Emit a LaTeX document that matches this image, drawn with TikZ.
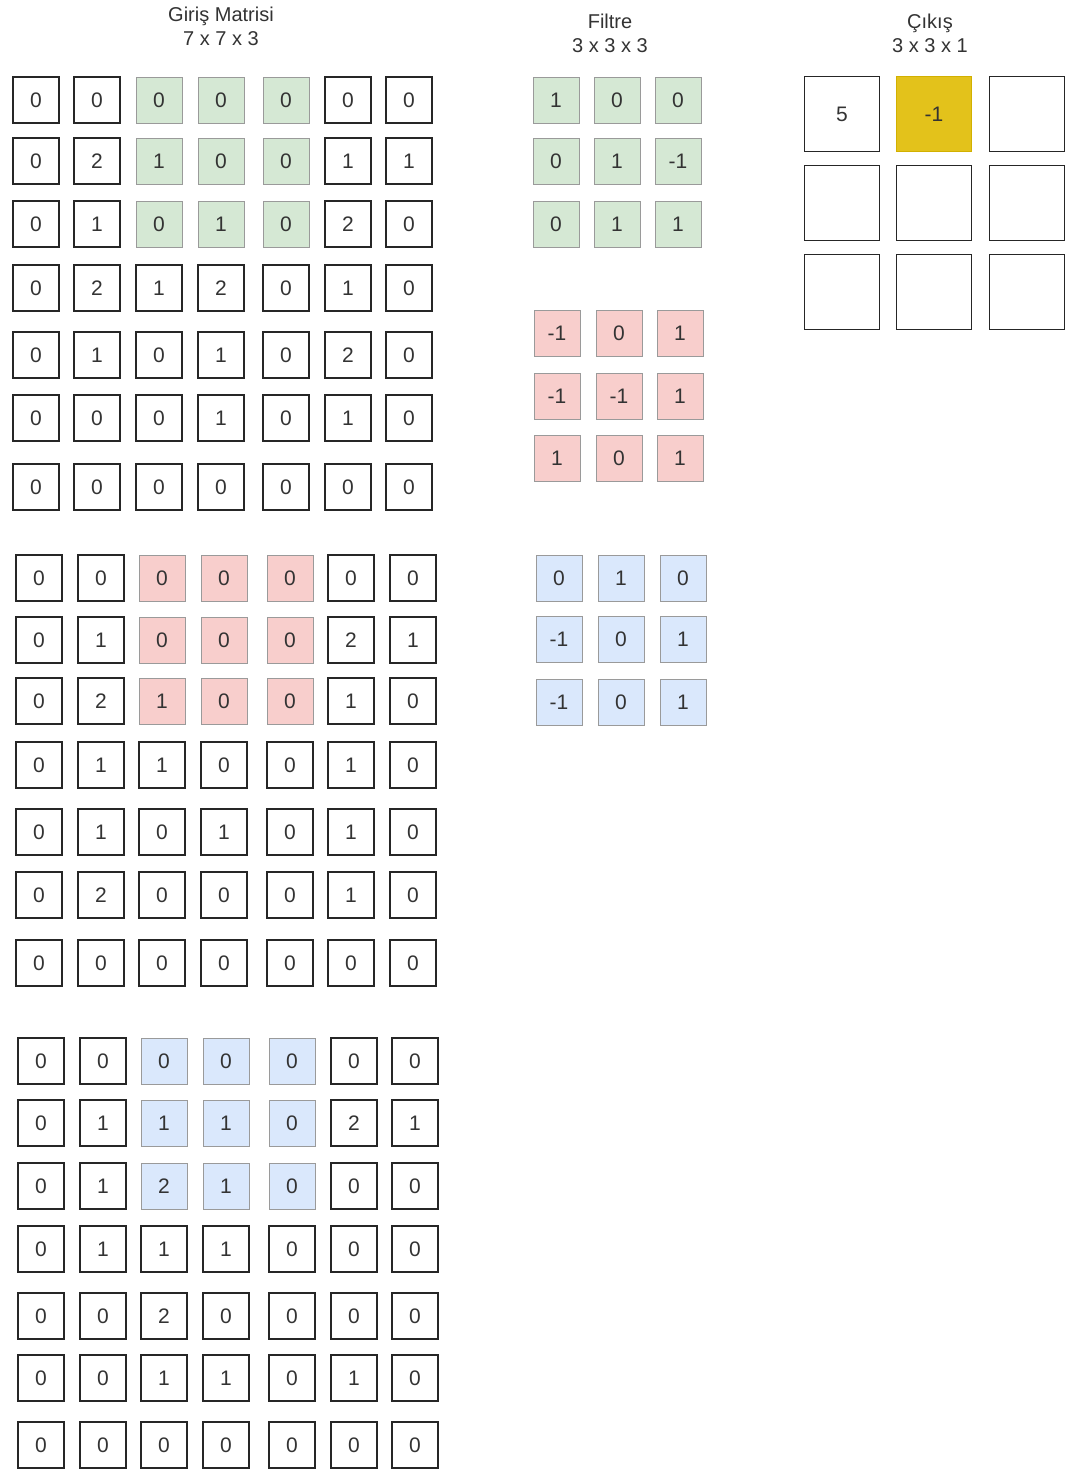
\documentclass[tikz,border=0pt]{standalone}
\usepackage{fontspec}
\setmainfont{Liberation Sans}
\definecolor{txt}{HTML}{333333}
\definecolor{gfill}{HTML}{D5E8D4}
\definecolor{rfill}{HTML}{F8CECC}
\definecolor{bfill}{HTML}{DAE8FC}
\definecolor{cborder}{HTML}{9A9A9A}
\definecolor{yfill}{HTML}{E3C21B}
\definecolor{yborder}{HTML}{D2B000}
\definecolor{wborder}{HTML}{262626}
\tikzset{
  base/.style={minimum width=46pt, minimum height=46pt, inner sep=0pt, text=txt,
    font=\fontsize{21}{25}\selectfont},
  cellw/.style={base, draw=wborder, line width=1.7pt, fill=white},
  cellg/.style={base, draw=cborder, line width=0.8pt, fill=gfill},
  cellr/.style={base, draw=cborder, line width=0.8pt, fill=rfill},
  cellb/.style={base, draw=cborder, line width=0.8pt, fill=bfill},
  outw/.style={minimum width=75pt, minimum height=75pt, inner sep=0pt, text=txt,
    font=\fontsize{21}{25}\selectfont, draw=wborder, line width=1.5pt, fill=white},
  outy/.style={outw, draw=yborder, line width=0.8pt, fill=yfill},
  title/.style={align=center, text=txt, font=\fontsize{20}{24}\selectfont, inner sep=0pt}
}
% #1 prefix, #2 column centres, #3 row centres, #4 highlight style, #5 highlight condition, #6 data
\newcommand\drawgrid[6]{%
  \foreach \row [count=\rr] in {#6} {
    \foreach \v [count=\cc] in \row {
      \pgfmathsetmacro\xx{{#2}[\cc-1]}
      \pgfmathsetmacro\yy{{#3}[\rr-1]}
      \pgfmathtruncatemacro\hl{#5}
      \ifnum\hl=1
        \node[#4] (#1-\rr-\cc) at (\xx,\yy) {\v};
      \else
        \node[cellw] (#1-\rr-\cc) at (\xx,\yy) {\v};
      \fi
    }
  }%
}
\begin{document}
\begin{tikzpicture}[x=1pt,y=-1pt]
\useasboundingbox[fill=white] (0,0) rectangle (1065,1470);

% titles
\node[title] (tin) at (221,26) {Giriş Matrisi\\7 x 7 x 3};
\node[title] (tfi) at (610,33) {Filtre\\3 x 3 x 3};
\node[title] (tou) at (930,33) {Çıkış\\3 x 3 x 1};

% input channel 1 (green window)
\drawgrid{ia}{36,97,159,221,286,348,409}{100,161,224,288,355,418,487}{cellg}
  {and(\rr<4,and(\cc>2,\cc<6))}
  {{0,0,0,0,0,0,0},{0,2,1,0,0,1,1},{0,1,0,1,0,2,0},{0,2,1,2,0,1,0},
   {0,1,0,1,0,2,0},{0,0,0,1,0,1,0},{0,0,0,0,0,0,0}}

% input channel 2 (red window)
\drawgrid{ib}{39,101,162,224,290,351,413}{578,640,701,765,832,895,963}{cellr}
  {and(\rr<4,and(\cc>2,\cc<6))}
  {{0,0,0,0,0,0,0},{0,1,0,0,0,2,1},{0,2,1,0,0,1,0},{0,1,1,0,0,1,0},
   {0,1,0,1,0,1,0},{0,2,0,0,0,1,0},{0,0,0,0,0,0,0}}

% input channel 3 (blue window)
\drawgrid{ic}{41,103,164,226,292,354,415}{1061,1123,1186,1249,1316,1378,1445}{cellb}
  {and(\rr<4,and(\cc>2,\cc<6))}
  {{0,0,0,0,0,0,0},{0,1,1,1,0,2,1},{0,1,2,1,0,0,0},{0,1,1,1,0,0,0},
   {0,0,2,0,0,0,0},{0,0,1,1,0,1,0},{0,0,0,0,0,0,0}}

% filters
\drawgrid{fa}{556,617,678}{100,161,224}{cellg}{1}
  {{1,0,0},{0,1,-1},{0,1,1}}
\drawgrid{fb}{557,619,680}{333,396,458}{cellr}{1}
  {{-1,0,1},{-1,-1,1},{1,0,1}}
\drawgrid{fc}{559,621,683}{578,639,702}{cellb}{1}
  {{0,1,0},{-1,0,1},{-1,0,1}}

% output
\node[outw] (o-1-1) at (842,114) {5};
\node[outy] (o-1-2) at (934,114) {-1};
\node[outw] (o-1-3) at (1027,114) {};
\node[outw] (o-2-1) at (842,203) {};
\node[outw] (o-2-2) at (934,203) {};
\node[outw] (o-2-3) at (1027,203) {};
\node[outw] (o-3-1) at (842,292) {};
\node[outw] (o-3-2) at (934,292) {};
\node[outw] (o-3-3) at (1027,292) {};
\end{tikzpicture}
\end{document}
